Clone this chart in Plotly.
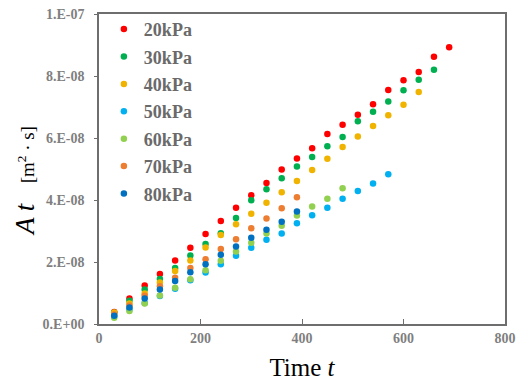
import plotly.graph_objects as go

times = [30 * i for i in range(1, 24)]

series_names = ["20kPa", "30kPa", "40kPa", "50kPa", "60kPa", "70kPa", "80kPa"]
colors = ["#FF0000", "#00B050", "#F0B400", "#00B0F0", "#92D050", "#ED7D31", "#0070C0"]

v20 = [0.39, 0.82, 1.24, 1.61, 2.05, 2.46, 2.90, 3.32, 3.75, 4.15, 4.55, 4.98, 5.34,
       5.67, 6.13, 6.43, 6.75, 7.09, 7.55, 7.86, 8.13, 8.62, 8.93]
v30 = [0.36, 0.75, 1.11, 1.45, 1.81, 2.21, 2.58, 2.93, 3.42, 3.99, 4.35, 4.70, 5.08,
       5.39, 5.73, 6.03, 6.54, 6.85, 7.18, 7.54, 7.88, 8.20]
v40 = [0.37, 0.66, 0.98, 1.34, 1.71, 2.05, 2.47, 2.87, 3.22, 3.56, 3.91, 4.25, 4.61,
       4.97, 5.33, 5.71, 6.05, 6.39, 6.73, 7.07, 7.48]
v50 = [0.24, 0.47, 0.68, 0.90, 1.14, 1.41, 1.66, 1.93, 2.20, 2.46, 2.72, 2.92, 3.25,
       3.51, 3.75, 4.04, 4.29, 4.53, 4.83]
v60 = [0.20, 0.42, 0.66, 0.92, 1.17, 1.44, 1.73, 2.04, 2.34, 2.62, 2.92, 3.17, 3.50,
       3.79, 4.04, 4.38]
v70 = [0.31, 0.60, 0.91, 1.22, 1.49, 1.81, 2.09, 2.42, 2.73, 3.09, 3.40, 3.73, 4.09]
v80 = [0.27, 0.53, 0.82, 1.11, 1.39, 1.67, 1.93, 2.23, 2.50, 2.78, 3.04, 3.30, 3.63]
scale = 1e-8

y_tickvals = [0, 2e-8, 4e-8, 6e-8, 8e-8, 1e-7]
y_ticktext = ["0.E+00", "2.E-08", "4.E-08", "6.E-08", "8.E-08", "1.E-07"]
x_tickvals = [0, 200, 400, 600, 800]

all_series = [v20, v30, v40, v50, v60, v70, v80]

fig = go.Figure()
for name, color, vals in zip(series_names, colors, all_series):
    fig.add_trace(go.Scatter(
        x=times[:len(vals)], y=[v * scale for v in vals], mode="markers", name=name,
        legendgroup=name,
        marker=dict(color=color, size=6.5, line=dict(width=0)),
    ))

tick_font = dict(family="Liberation Serif", size=14, color="#7f7f7f", weight="bold")
line_col = "#6e6e6e"
fig.update_layout(
    width=516, height=381,
    margin=dict(l=99, r=11, t=12, b=57),
    paper_bgcolor="white", plot_bgcolor="white",
    showlegend=True,
    legend=dict(x=0.012, y=1.01, xanchor="left", yanchor="top", maxheight=330,
                font=dict(family="Liberation Serif", size=18, color="#6a6a6a", weight="bold"),
                bgcolor="rgba(0,0,0,0)", itemwidth=30, tracegroupgap=1),
    xaxis=dict(range=[0, 800], tickvals=x_tickvals, showgrid=False, zeroline=False,
               showline=True, linecolor=line_col, linewidth=1.5, mirror=True,
               ticks="inside", ticklen=5, tickcolor=line_col, automargin=False,
               tickfont=tick_font,
               title=dict(text="Time <i>t</i>", font=dict(family="Liberation Serif", size=25, color="black"),
                          standoff=14)),
    yaxis=dict(range=[0, 1e-7], tickvals=y_tickvals, ticktext=y_ticktext, showgrid=False,
               zeroline=False, showline=True, linecolor=line_col, linewidth=1.5, mirror=True,
               ticks="outside", ticklen=3, tickcolor=line_col, tickfont=tick_font,
               automargin=False, ticklabelstandoff=7),
)
fig.add_annotation(
    text="<i>A t</i>   <span style='font-size:19px'>[m<sup>2</sup> · s]</span>",
    xref="paper", yref="paper", x=-0.182, y=0.462, xanchor="center", yanchor="middle",
    textangle=-90, showarrow=False,
    font=dict(family="Liberation Serif", size=27, color="black"),
)
fig.write_html("out.html", config={"displayModeBar": False},
               post_script="document.body.style.margin='0px';")
